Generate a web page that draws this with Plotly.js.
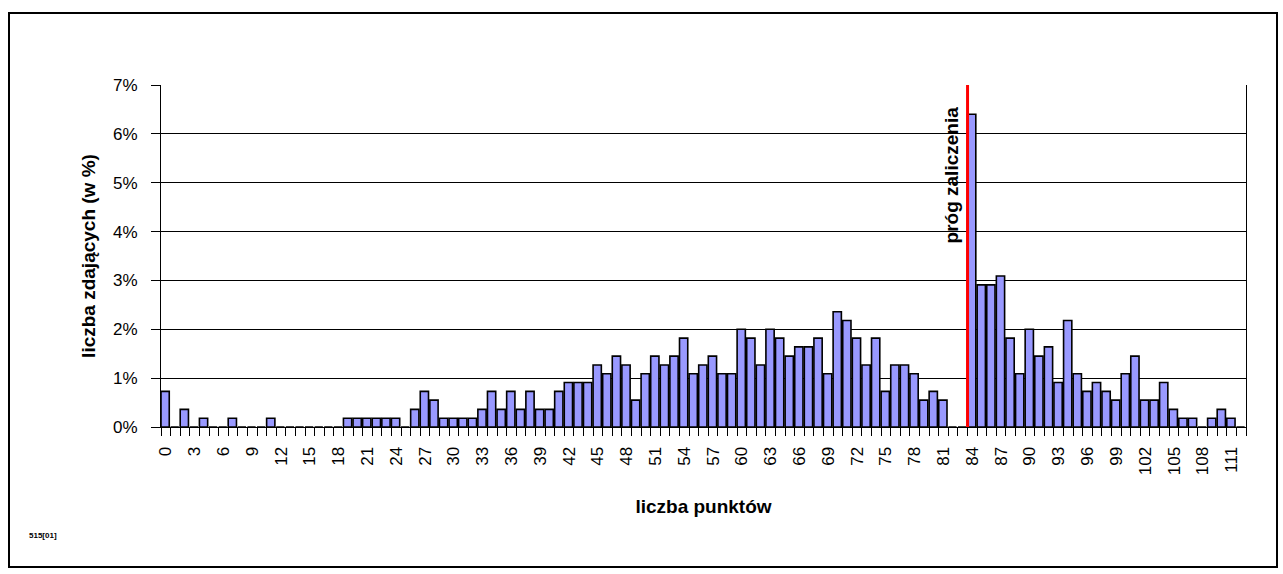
<!DOCTYPE html>
<html>
<head>
<meta charset="utf-8">
<script src="https://cdn.plot.ly/plotly-3.0.1.min.js"></script>
<style>
  html, body { margin: 0; padding: 0; background: #fff; }
  #wrap { position: relative; width: 1283px; height: 574px; }
  #chart { position: absolute; left: 0; top: 0; width: 1283px; height: 574px; }
  #frame { position: absolute; left: 8px; top: 12px; width: 1266px; height: 552px;
           border: 2px solid #000; pointer-events: none; }
</style>
</head>
<body>
<div id="wrap">
  <div id="chart"></div>
  <div id="frame"></div>
</div>
<script>
// Points scored (categories 0..112)
const points = Array.from({length: 113}, (_, i) => i);

// Share of students (in %) for each point score
const shares = [
  0.73, 0, 0.36, 0, 0.18, 0, 0, 0.18, 0, 0,        // 0-9
  0, 0.18, 0, 0, 0, 0, 0, 0, 0, 0.18,              // 10-19
  0.18, 0.18, 0.18, 0.18, 0.18, 0, 0.36, 0.73, 0.55, 0.18, // 20-29
  0.18, 0.18, 0.18, 0.36, 0.73, 0.36, 0.73, 0.36, 0.73, 0.36, // 30-39
  0.36, 0.73, 0.91, 0.91, 0.91, 1.27, 1.09, 1.45, 1.27, 0.55, // 40-49
  1.09, 1.45, 1.27, 1.45, 1.82, 1.09, 1.27, 1.45, 1.09, 1.09, // 50-59
  2.00, 1.82, 1.27, 2.00, 1.82, 1.45, 1.64, 1.64, 1.82, 1.09, // 60-69
  2.36, 2.18, 1.82, 1.27, 1.82, 0.73, 1.27, 1.27, 1.09, 0.55, // 70-79
  0.73, 0.55, 0, 0, 6.40, 2.91, 2.91, 3.09, 1.82, 1.09,       // 80-89
  2.00, 1.45, 1.64, 0.91, 2.18, 1.09, 0.73, 0.91, 0.73, 0.55, // 90-99
  1.09, 1.45, 0.55, 0.55, 0.91, 0.36, 0.18, 0.18, 0, 0.18,    // 100-109
  0.36, 0.18, 0                                               // 110-112
];

// Tick labels on the x axis (every third score)
const xTickVals = [];
for (let v = 0; v <= 111; v += 3) xTickVals.push(v);
const xTickText = xTickVals.map(String);

// Y tick labels
const yTickVals = [0, 1, 2, 3, 4, 5, 6, 7];
const yTickText = yTickVals.map(v => v + '%');

// Pass threshold
const threshold = 84;
const thresholdLabel = 'próg zaliczenia';

const font = 'Liberation Sans, Arial, sans-serif';

const trace = {
  type: 'bar',
  x: points,
  y: shares,
  width: 0.86,
  offset: -0.5,
  marker: { color: '#9999FF', line: { color: '#000000', width: 1.6 } },
  hoverinfo: 'x+y'
};

const layout = {
  width: 1283,
  height: 574,
  margin: { l: 161, r: 37, t: 85, b: 147 },
  paper_bgcolor: '#ffffff',
  plot_bgcolor: '#ffffff',
  showlegend: false,
  font: { family: font, size: 17, color: '#000' },
  xaxis: {
    type: 'linear',
    range: [-0.5, 112.5],
    tickmode: 'array',
    tickvals: xTickVals,
    ticktext: xTickText,
    tickangle: -90,
    ticks: '',
    ticklabelstandoff: 12,
    showgrid: false,
    zeroline: false,
    showline: true,
    linecolor: '#000',
    linewidth: 1,
    tickfont: { family: font, size: 17, color: '#000' },
    minor: { ticks: 'outside', tick0: 0.5, dtick: 1, ticklen: 8, tickcolor: '#000', tickwidth: 1, showgrid: false },
    title: { text: 'liczba punktów', font: { family: font, size: 19, color: '#000', weight: 'bold' }, standoff: 25 }
  },
  yaxis: {
    range: [0, 7],
    tickmode: 'array',
    tickvals: yTickVals,
    ticktext: yTickText,
    ticks: 'outside',
    ticklen: 9,
    tickcolor: '#000',
    ticklabelstandoff: 10,
    showgrid: true,
    gridcolor: '#000',
    gridwidth: 1,
    zeroline: false,
    showline: true,
    mirror: true,
    linecolor: '#000',
    linewidth: 1,
    tickfont: { family: font, size: 17, color: '#000' },
    title: { text: 'liczba zdających (w %)', font: { family: font, size: 19, color: '#000', weight: 'bold' }, standoff: 12 }
  },
  shapes: [{
    type: 'line', xref: 'x', yref: 'paper',
    x0: threshold - 0.5, x1: threshold - 0.5, y0: 0, y1: 1,
    line: { color: '#FF0000', width: 3 }
  }],
  annotations: [
    {
      xref: 'x', yref: 'y', x: threshold - 0.5, y: 5.15,
      text: '<b>' + thresholdLabel + '</b>', textangle: -90,
      xanchor: 'right', yanchor: 'middle', xshift: -4, showarrow: false,
      font: { family: font, size: 19, color: '#000' }
    },
    {
      xref: 'paper', yref: 'paper', x: -0.1235, y: -0.316,
      text: '<b>515[01]</b>', xanchor: 'left', yanchor: 'middle', showarrow: false,
      font: { family: 'Liberation Sans Narrow, Arial Narrow, sans-serif', size: 8, color: '#000' }
    }
  ]
};

Plotly.newPlot('chart', [trace], layout, { displayModeBar: false, staticPlot: true });
</script>
</body>
</html>
